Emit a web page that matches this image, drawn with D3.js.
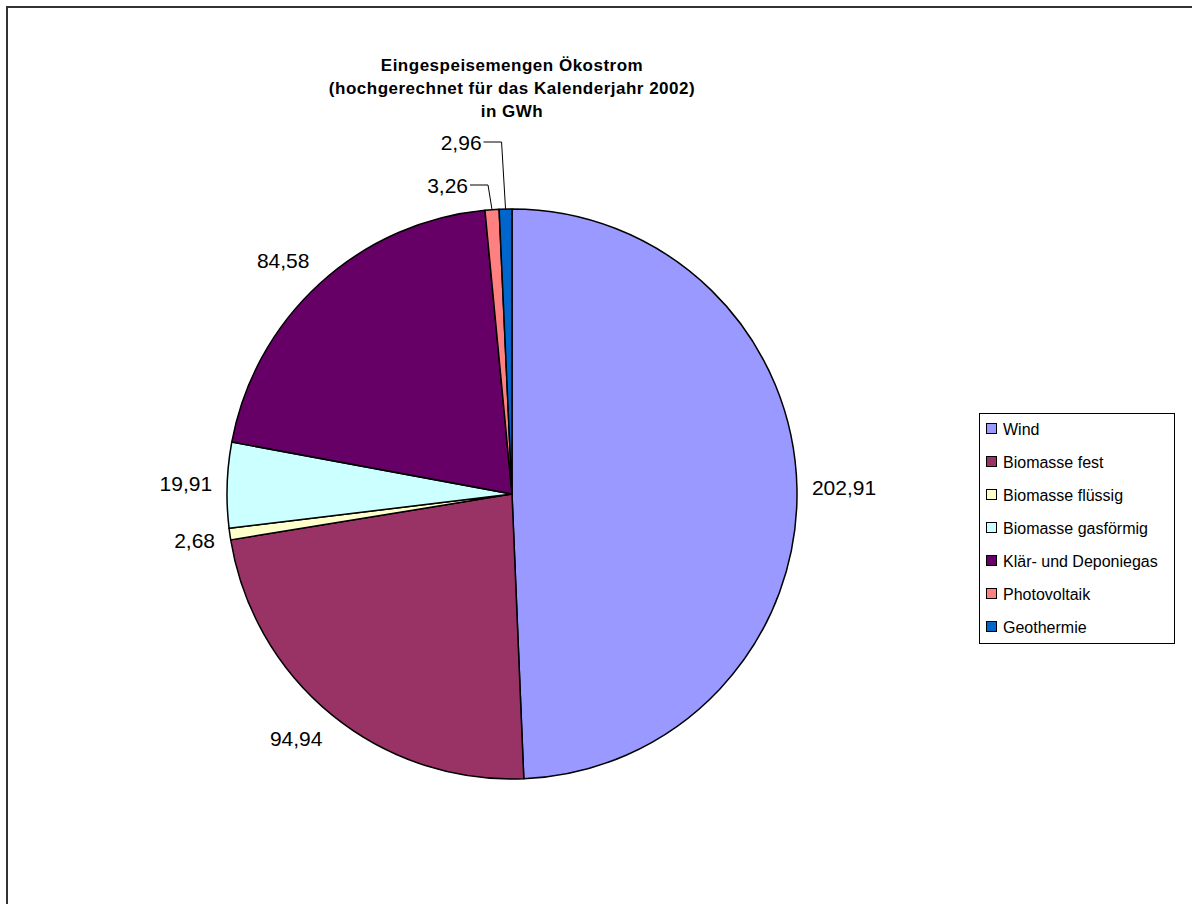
<!DOCTYPE html>
<html>
<head>
<meta charset="utf-8">
<script src="https://cdn.jsdelivr.net/npm/d3@7/dist/d3.min.js"></script>
<style>
  html, body { margin: 0; padding: 0; background: #fff; }
  svg { display: block; }
  text { font-family: Arial, "Liberation Sans", Helvetica, sans-serif; }
</style>
</head>
<body>
<svg id="chart" width="1192" height="904"></svg>
<script>
// Eingespeiste Ökostrom-Mengen je Energieträger (GWh)
const categories = [
  "Wind",
  "Biomasse fest",
  "Biomasse flüssig",
  "Biomasse gasförmig",
  "Klär- und Deponiegas",
  "Photovoltaik",
  "Geothermie"
];
const values = [202.91, 94.94, 2.68, 19.91, 84.58, 3.26, 2.96];
const colors = ["#9999FF", "#993366", "#FFFFCC", "#CCFFFF", "#660066", "#FF8080", "#0066CC"];
const titleLines = [
  "Eingespeisemengen Ökostrom",
  "(hochgerechnet für das Kalenderjahr 2002)",
  "in GWh"
];

const W = 1192, H = 904;
const svg = d3.select("#chart");

// Chart frame (runs past the visible area on the right and bottom)
svg.append("rect")
  .attr("x", 7).attr("y", 7)
  .attr("width", W + 20).attr("height", H + 20)
  .attr("fill", "#fff")
  .attr("stroke", "#333").attr("stroke-width", 2);

// Pie geometry
const cx = 512, cy = 494, r = 285;

// Title
const title = svg.append("text")
  .attr("text-anchor", "middle")
  .attr("font-weight", "bold")
  .attr("font-size", 17)
  .attr("letter-spacing", 0.5)
  .attr("fill", "#000");
titleLines.forEach((t, i) => {
  title.append("tspan").attr("x", cx).attr("y", 71 + i * 23).text(t);
});

const de = d3.formatLocale({ decimal: ",", thousands: ".", grouping: [3], currency: ["", " €"] });
const fmt = de.format(".2f");

const pie = d3.pie().sort(null).value(d => d.value).startAngle(0).endAngle(2 * Math.PI);
const data = categories.map((c, i) => ({ name: c, value: values[i], color: colors[i] }));
const arcs = pie(data);
const arc = d3.arc().innerRadius(0).outerRadius(r);

const g = svg.append("g").attr("transform", `translate(${cx},${cy})`);
g.selectAll("path.slice")
  .data(arcs)
  .join("path")
  .attr("class", "slice")
  .attr("d", arc)
  .attr("fill", d => d.data.color)
  .attr("stroke", "#000")
  .attr("stroke-width", 1.5)
  .attr("stroke-linejoin", "round");

// Data labels: the label box sits just outside the rim, pushed away from the
// pie by half its size; thin slices at the top get stacked labels with leaders.
const fs = 21;
const capH = fs * 0.72;
const boxH = 24;
const anchorR = r + 15;
const clamp = v => Math.max(-1, Math.min(1, v));

const measure = svg.append("text").attr("font-size", fs).attr("visibility", "hidden");
function textWidth(s) {
  measure.text(s);
  return measure.node().getComputedTextLength();
}

const mid = d => (d.startAngle + d.endAngle) / 2;
const isStacked = d => (d.endAngle - d.startAngle) < 0.06 && Math.cos(mid(d)) > 0.9;
const stacked = arcs.filter(isStacked).sort((a, b) => mid(a) - mid(b));
const labelG = g.append("g");

arcs.forEach(d => {
  const a = mid(d);
  const s = Math.sin(a), c = -Math.cos(a);
  const label = fmt(d.data.value);
  if (isStacked(d)) {
    const k = stacked.indexOf(d);
    const ax = r * s, ay = r * c;
    const ex = ax - 4;
    const ey = -(r + 24 + k * 43);
    labelG.append("polyline")
      .attr("points", [[ax, ay], [ex, ey], [ex - 18, ey]].map(p => p.join(",")).join(" "))
      .attr("fill", "none")
      .attr("stroke", "#000")
      .attr("stroke-width", 1);
    labelG.append("text")
      .attr("x", ex - 20)
      .attr("y", ey + capH / 2)
      .attr("text-anchor", "end")
      .attr("font-size", fs)
      .attr("fill", "#000")
      .text(label);
  } else {
    const w = textWidth(label);
    const x = anchorR * s + clamp(s * 2.5) * w / 2;
    const y = anchorR * c + clamp(c * 2.5) * boxH / 2;
    labelG.append("text")
      .attr("x", x)
      .attr("y", y + capH / 2)
      .attr("text-anchor", "middle")
      .attr("font-size", fs)
      .attr("fill", "#000")
      .text(label);
  }
});
measure.remove();

// Legend
const lx = 979, ly = 413, lw = 195, lh = 230;
const legend = svg.append("g");
legend.append("rect")
  .attr("x", lx + 0.5).attr("y", ly + 0.5)
  .attr("width", lw).attr("height", lh)
  .attr("fill", "#fff")
  .attr("stroke", "#000").attr("stroke-width", 1);

const rowY = d3.scalePoint().domain(categories).range([429, 627]);
const item = legend.selectAll("g.item")
  .data(data)
  .join("g")
  .attr("class", "item")
  .attr("transform", d => `translate(0,${rowY(d.name)})`);
item.append("rect")
  .attr("x", 986.5).attr("y", -5.5)
  .attr("width", 10).attr("height", 10)
  .attr("fill", d => d.color)
  .attr("stroke", "#000").attr("stroke-width", 1);
item.append("text")
  .attr("x", 1003)
  .attr("y", 6)
  .attr("font-size", 16)
  .attr("fill", "#000")
  .text(d => d.name);
</script>
</body>
</html>
